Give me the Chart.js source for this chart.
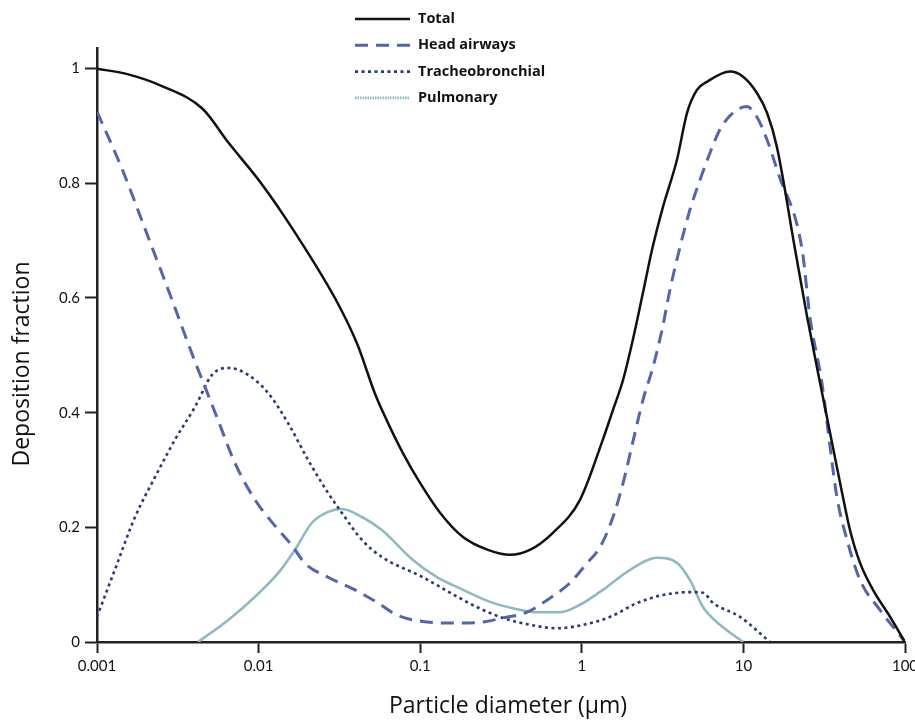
<!DOCTYPE html>
<html>
<head>
<meta charset="utf-8">
<script src="https://cdn.jsdelivr.net/npm/chart.js@4"></script>
<style>
  html, body { margin: 0; padding: 0; background: #fff; overflow: hidden; }
  canvas { display: block; }
</style>
</head>
<body>
<canvas id="depChart" width="915" height="720"></canvas>
<script>
// Particle diameter (µm) and deposition fraction for each region
const totalDiam = [0.001, 0.00156, 0.0025, 0.0045, 0.0065, 0.0105, 0.0168, 0.031, 0.041, 0.0525, 0.062, 0.078, 0.1, 0.133, 0.184, 0.26, 0.36, 0.48, 0.66, 0.975, 1.35, 1.56, 1.8, 2.07, 2.39, 2.72, 3.18, 3.88, 4.48, 5.16, 5.95, 8.26, 9.96, 12.1, 14.0, 16.1, 20.9, 24.8, 29.8, 35.8, 41.3, 45.7, 52.7, 63.4, 80.8, 100];
const totalFrac = [1.0, 0.99, 0.97, 0.93, 0.871, 0.798, 0.714, 0.59, 0.518, 0.433, 0.387, 0.33, 0.277, 0.225, 0.183, 0.161, 0.152, 0.161, 0.19, 0.248, 0.353, 0.405, 0.457, 0.527, 0.609, 0.684, 0.759, 0.841, 0.923, 0.963, 0.977, 0.995, 0.986, 0.958, 0.923, 0.864, 0.684, 0.567, 0.452, 0.34, 0.253, 0.195, 0.138, 0.091, 0.044, 0.0];

const headDiam = [0.001, 0.00143, 0.00198, 0.00291, 0.00404, 0.00466, 0.00561, 0.00714, 0.0095, 0.0126, 0.0161, 0.0194, 0.0269, 0.0395, 0.0548, 0.0718, 0.11, 0.169, 0.245, 0.325, 0.458, 0.609, 0.845, 1.08, 1.3, 1.56, 1.8, 2.07, 2.39, 2.76, 3.14, 3.51, 3.94, 4.67, 5.39, 6.21, 7.16, 8.62, 10.5, 12.1, 14.0, 16.4, 23.1, 25.8, 30.6, 34.4, 37.9, 43.8, 52.7, 70.0, 100];
const headFrac = [0.925, 0.825, 0.721, 0.597, 0.489, 0.445, 0.387, 0.312, 0.248, 0.203, 0.168, 0.137, 0.113, 0.091, 0.068, 0.047, 0.035, 0.033, 0.035, 0.042, 0.052, 0.073, 0.103, 0.138, 0.166, 0.218, 0.277, 0.349, 0.422, 0.48, 0.545, 0.614, 0.675, 0.754, 0.806, 0.853, 0.894, 0.923, 0.934, 0.916, 0.876, 0.818, 0.684, 0.567, 0.452, 0.34, 0.253, 0.178, 0.108, 0.056, 0.0];

const tracheoDiam = [0.001, 0.00129, 0.00172, 0.00229, 0.00304, 0.00404, 0.00515, 0.00647, 0.0086, 0.0114, 0.0152, 0.0202, 0.0269, 0.0328, 0.0436, 0.0581, 0.104, 0.153, 0.224, 0.325, 0.478, 0.703, 1.02, 1.5, 2.2, 3.18, 4.67, 5.62, 6.49, 9.52, 14.6];
const tracheoFrac = [0.044, 0.126, 0.218, 0.288, 0.353, 0.41, 0.466, 0.478, 0.466, 0.435, 0.382, 0.318, 0.26, 0.225, 0.178, 0.148, 0.113, 0.086, 0.061, 0.042, 0.03, 0.024, 0.03, 0.044, 0.068, 0.082, 0.087, 0.086, 0.068, 0.044, 0.0];

const pulmDiam = [0.00422, 0.00647, 0.0095, 0.0132, 0.0168, 0.0214, 0.0269, 0.0328, 0.0436, 0.0581, 0.0902, 0.127, 0.184, 0.27, 0.375, 0.528, 0.733, 0.975, 1.35, 1.99, 2.92, 3.88, 4.67, 5.62, 7.16, 9.96];
const pulmFrac = [0.0, 0.038, 0.079, 0.12, 0.161, 0.208, 0.227, 0.232, 0.218, 0.195, 0.143, 0.113, 0.091, 0.07, 0.059, 0.052, 0.052, 0.065, 0.091, 0.126, 0.147, 0.138, 0.108, 0.061, 0.03, 0.0];

const xTicks = [0.001, 0.01, 0.1, 1, 10, 100];
const xTickLabels = ['0.001', '0.01', '0.1', '1', '10', '100'];
const yTicks = [0, 0.2, 0.4, 0.6, 0.8, 1];
const yTickLabels = ['0', '0.2', '0.4', '0.6', '0.8', '1'];

const xTitle = 'Particle diameter (µm)';
const yTitle = 'Deposition fraction';

const FONT = 'Lato, "Open Sans", sans-serif';
const TITLE_FONT = '"Open Sans", Lato, sans-serif';

function pts(xs, ys) {
    return xs.map((x, i) => ({ x: x, y: ys[i] }));
}

// Stacked legend over the top of the plot, plus the two axis titles
const annotations = {
    id: 'annotations',
    afterDraw(chart) {
        const ctx = chart.ctx;
        ctx.save();
        ctx.font = 'bold 14.5px ' + TITLE_FONT;
        ctx.textBaseline = 'middle';
        ctx.textAlign = 'left';
        chart.data.datasets.forEach((ds, i) => {
            const y = 19 + i * 26.3;
            ctx.strokeStyle = ds.borderColor;
            ctx.lineWidth = ds.legendWidth || ds.borderWidth;
            ctx.setLineDash(ds.legendDash || ds.borderDash || []);
            ctx.beginPath();
            ctx.moveTo(355, y);
            ctx.lineTo(410, y);
            ctx.stroke();
            ctx.setLineDash([]);
            ctx.fillStyle = '#111';
            ctx.fillText(ds.label, 418, y);
        });

        ctx.font = '23px ' + TITLE_FONT;
        ctx.textAlign = 'center';
        ctx.fillStyle = '#111';
        ctx.fillText(xTitle, 508, 706);
        ctx.translate(22, 364);
        ctx.rotate(-Math.PI / 2);
        ctx.fillText(yTitle, 0, 0);
        ctx.restore();
    }
};

new Chart(document.getElementById('depChart'), {
    type: 'line',
    data: {
        datasets: [{
            label: 'Total',
            data: pts(totalDiam, totalFrac),
            borderColor: '#111111',
            borderWidth: 2.5
        }, {
            label: 'Head airways',
            data: pts(headDiam, headFrac),
            borderColor: '#5466a8',
            borderWidth: 3,
            borderDash: [13, 8]
        }, {
            label: 'Tracheobronchial',
            data: pts(tracheoDiam, tracheoFrac),
            borderColor: '#2c3a72',
            borderWidth: 2.6,
            borderDash: [3, 3.5]
        }, {
            label: 'Pulmonary',
            data: pts(pulmDiam, pulmFrac),
            borderColor: '#8dbac4',
            borderWidth: 2.6,
            legendDash: [1.5, 1]
        }]
    },
    options: {
        responsive: false,
        animation: false,
        layout: { padding: { top: 48, right: 10, left: 0, bottom: 0 } },
        elements: {
            point: { radius: 0 },
            line: { cubicInterpolationMode: 'monotone', fill: false }
        },
        plugins: {
            legend: { display: false },
            tooltip: { enabled: false }
        },
        scales: {
            x: {
                type: 'logarithmic',
                min: 0.001,
                max: 100,
                afterBuildTicks: (scale) => { scale.ticks = xTicks.map(v => ({ value: v })); },
                afterFit: (scale) => {
                    scale.height = 78;
                    scale.paddingLeft = 0;
                    scale.paddingRight = 0;
                },
                border: { display: true, color: '#222', width: 2.5 },
                grid: { drawOnChartArea: false, drawTicks: true, tickLength: 11, tickWidth: 2, tickColor: '#222' },
                ticks: {
                    color: '#111',
                    font: { family: FONT, size: 15 },
                    padding: 4,
                    maxRotation: 0,
                    autoSkip: false,
                    callback: (v, i) => xTickLabels[i]
                }
            },
            y: {
                min: 0,
                max: 1.036,
                afterBuildTicks: (scale) => { scale.ticks = yTicks.map(v => ({ value: v })); },
                afterFit: (scale) => {
                    scale.width = 97;
                    scale.paddingTop = 0;
                    scale.paddingBottom = 0;
                },
                border: { display: true, color: '#222', width: 2.5 },
                grid: { drawOnChartArea: false, drawTicks: true, tickLength: 12, tickWidth: 2, tickColor: '#222' },
                ticks: {
                    color: '#111',
                    font: { family: FONT, size: 15 },
                    padding: 5,
                    callback: (v, i) => yTickLabels[i]
                }
            }
        }
    },
    plugins: [annotations]
});
</script>
</body>
</html>
